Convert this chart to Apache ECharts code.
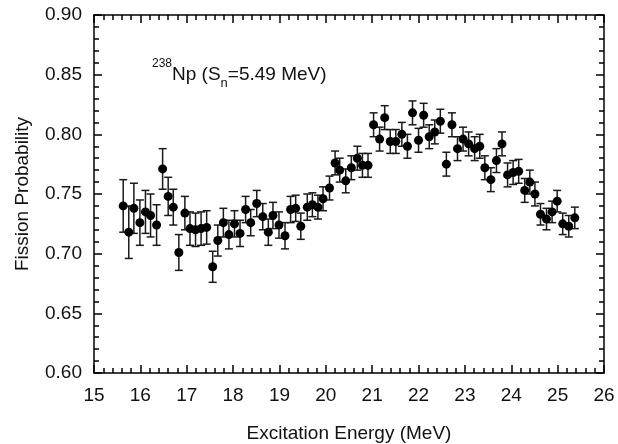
<!DOCTYPE html>
<html>
<head>
<meta charset="utf-8">
<script src="https://cdn.jsdelivr.net/npm/echarts@6/dist/echarts.min.js"></script>
<style>
  html, body { margin: 0; padding: 0; background: #fff; }
  #chart { width: 618px; height: 444px; }
</style>
</head>
<body>
<div id="chart"></div>
<script>
// excitation energy (MeV)
const energy = [
  15.63, 15.75, 15.86, 15.99, 16.11, 16.22, 16.35, 16.48, 16.60, 16.71,
  16.83, 16.96, 17.07, 17.19, 17.31, 17.43, 17.56, 17.67, 17.79, 17.91,
  18.03, 18.15, 18.27, 18.38, 18.51, 18.64, 18.76, 18.86, 18.99, 19.12,
  19.24, 19.35, 19.46, 19.60, 19.71, 19.83, 19.94, 20.08, 20.20, 20.30,
  20.43, 20.55, 20.68, 20.79, 20.91, 21.03, 21.16, 21.27, 21.39, 21.51,
  21.64, 21.76, 21.87, 22.00, 22.11, 22.23, 22.35, 22.47, 22.60, 22.72,
  22.84, 22.96, 23.08, 23.21, 23.32, 23.43, 23.56, 23.68, 23.80, 23.92,
  24.04, 24.16, 24.29, 24.40, 24.51, 24.63, 24.76, 24.88, 24.99, 25.11,
  25.24, 25.37
];
// fission probability
const prob = [
  0.740, 0.718, 0.738, 0.726, 0.735, 0.732, 0.724, 0.771, 0.748, 0.739,
  0.701, 0.734, 0.721, 0.720, 0.721, 0.722, 0.689, 0.711, 0.726, 0.716,
  0.725, 0.717, 0.737, 0.726, 0.742, 0.731, 0.718, 0.732, 0.724, 0.715,
  0.737, 0.738, 0.723, 0.739, 0.741, 0.739, 0.746, 0.755, 0.776, 0.770,
  0.761, 0.772, 0.780, 0.774, 0.774, 0.808, 0.796, 0.814, 0.794, 0.794,
  0.800, 0.790, 0.818, 0.795, 0.816, 0.798, 0.802, 0.811, 0.775, 0.808,
  0.788, 0.796, 0.792, 0.788, 0.790, 0.772, 0.762, 0.778, 0.792, 0.766,
  0.768, 0.769, 0.753, 0.760, 0.750, 0.733, 0.729, 0.735, 0.744, 0.725,
  0.723, 0.730
];
// error (+/-)
const err = [
  0.022, 0.022, 0.021, 0.019, 0.018, 0.018, 0.017, 0.017, 0.016, 0.015,
  0.015, 0.014, 0.014, 0.014, 0.014, 0.014, 0.013, 0.013, 0.012, 0.012,
  0.011, 0.011, 0.011, 0.011, 0.011, 0.011, 0.011, 0.011, 0.011, 0.011,
  0.011, 0.011, 0.011, 0.011, 0.010, 0.010, 0.010, 0.010, 0.010, 0.010,
  0.010, 0.010, 0.010, 0.010, 0.010, 0.010, 0.010, 0.010, 0.010, 0.010,
  0.010, 0.010, 0.010, 0.010, 0.010, 0.010, 0.010, 0.010, 0.010, 0.010,
  0.010, 0.010, 0.010, 0.010, 0.010, 0.010, 0.010, 0.010, 0.010, 0.010,
  0.010, 0.010, 0.010, 0.010, 0.010, 0.009, 0.009, 0.009, 0.009, 0.009,
  0.009, 0.009
];

const chart = echarts.init(document.getElementById('chart'), null, { renderer: 'canvas' });

const txt = '#111';
const font = 'Liberation Sans, Arial, sans-serif';

const points = energy.map((e, i) => [e, prob[i]]);
const bars = energy.map((e, i) => [e, prob[i] - err[i], prob[i] + err[i]]);

function axisCommon(showLabel) {
  return {
    axisLine: { show: true, onZero: false, lineStyle: { color: '#000', width: 1.5 } },
    axisTick: { show: true, inside: true, length: 8, lineStyle: { color: '#000', width: 1.5 } },
    minorTick: { show: true, splitNumber: 5, length: 5, lineStyle: { color: '#000', width: 1.5 } },
    splitLine: { show: false },
    minorSplitLine: { show: false },
    axisLabel: { show: showLabel }
  };
}

const option = {
  backgroundColor: '#fff',
  animation: false,
  grid: { left: 94, right: 14, top: 15, bottom: 71, outerBoundsMode: 'none' },
  xAxis: [
    Object.assign(axisCommon(true), {
      type: 'value', min: 15, max: 26, interval: 1, position: 'bottom',
      name: 'Excitation Energy (MeV)', nameLocation: 'middle', nameGap: 51,
      nameTextStyle: { color: txt, fontSize: 19, fontFamily: font },
      axisLabel: { show: true, margin: 13, color: txt, fontSize: 19, fontFamily: font }
    }),
    Object.assign(axisCommon(false), {
      type: 'value', min: 15, max: 26, interval: 1, position: 'top'
    })
  ],
  yAxis: [
    Object.assign(axisCommon(true), {
      type: 'value', min: 0.6, max: 0.9, interval: 0.05, position: 'left',
      name: 'Fission Probability', nameLocation: 'middle', nameGap: 62,
      nameTextStyle: { color: txt, fontSize: 19, fontFamily: font },
      axisLabel: { show: true, margin: 12, color: txt, fontSize: 19, fontFamily: font,
        formatter: v => v.toFixed(2) }
    }),
    Object.assign(axisCommon(false), {
      type: 'value', min: 0.6, max: 0.9, interval: 0.05, position: 'right'
    })
  ],
  graphic: [{
    type: 'text', left: 152, top: 58,
    style: {
      text: '{sup|238}{m|Np (S}{sub|n}{m|=5.49 MeV)}',
      fill: txt,
      rich: {
        m: { fontSize: 19, fontFamily: font, fill: txt, verticalAlign: 'bottom', lineHeight: 26 },
        sup: { fontSize: 12, fontFamily: font, fill: txt, verticalAlign: 'top', lineHeight: 26 },
        sub: { fontSize: 13, fontFamily: font, fill: txt, verticalAlign: 'bottom', lineHeight: 22, padding: [0, 0, -6, 0] }
      }
    }
  }],
  series: [
    {
      type: 'custom',
      data: bars,
      z: 2,
      renderItem: function (params, api) {
        const x = api.value(0);
        const lo = api.coord([x, api.value(1)]);
        const hi = api.coord([x, api.value(2)]);
        const w = 4;
        const st = { stroke: '#1a1a1a', lineWidth: 1.5 };
        return {
          type: 'group',
          children: [
            { type: 'line', shape: { x1: lo[0], y1: lo[1], x2: hi[0], y2: hi[1] }, style: st },
            { type: 'line', shape: { x1: lo[0] - w, y1: lo[1], x2: lo[0] + w, y2: lo[1] }, style: st },
            { type: 'line', shape: { x1: hi[0] - w, y1: hi[1], x2: hi[0] + w, y2: hi[1] }, style: st }
          ]
        };
      }
    },
    {
      type: 'scatter',
      data: points,
      z: 3,
      symbol: 'circle',
      symbolSize: 9,
      itemStyle: { color: '#000', opacity: 1 }
    }
  ]
};

chart.setOption(option);
</script>
</body>
</html>
